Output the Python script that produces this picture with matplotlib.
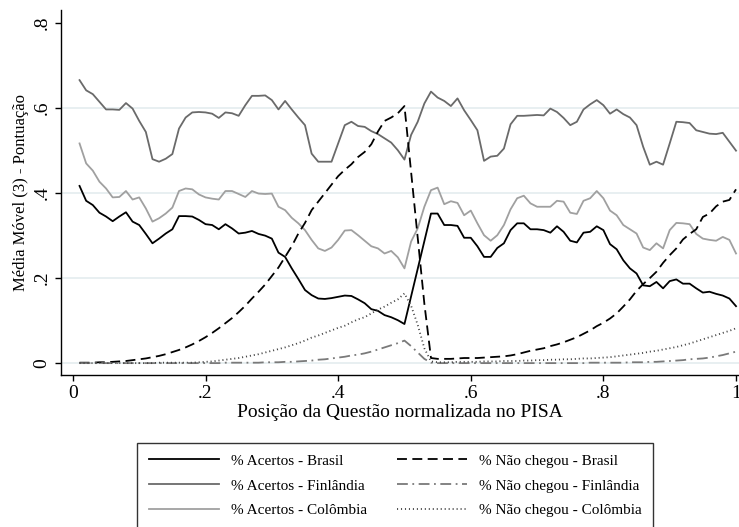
import numpy as np
import matplotlib
matplotlib.use("Agg")
import matplotlib.pyplot as plt

# posição normalizada da questão (0.01 .. 1.00)
posicao = np.round(np.arange(1, 101) / 100, 2)

acertos_brasil = [
    0.417, 0.382, 0.372, 0.354, 0.345, 0.334, 0.345, 0.355, 0.333, 0.325,
    0.304, 0.282, 0.293, 0.305, 0.315, 0.346, 0.346, 0.345, 0.337, 0.327,
    0.325, 0.315, 0.327, 0.317, 0.305, 0.307, 0.311, 0.304, 0.300, 0.293,
    0.260, 0.250, 0.223, 0.198, 0.172, 0.160, 0.152, 0.151, 0.153, 0.156,
    0.159, 0.158, 0.150, 0.141, 0.127, 0.123, 0.113, 0.108, 0.101, 0.092,
    0.157, 0.222, 0.287, 0.352, 0.352, 0.325, 0.325, 0.323, 0.295, 0.295,
    0.275, 0.250, 0.250, 0.271, 0.282, 0.313, 0.329, 0.329, 0.315, 0.315,
    0.313, 0.307, 0.322, 0.309, 0.288, 0.284, 0.307, 0.309, 0.322, 0.313,
    0.280, 0.268, 0.242, 0.223, 0.211, 0.183, 0.181, 0.191, 0.176, 0.193,
    0.197, 0.187, 0.187, 0.176, 0.166, 0.168, 0.163, 0.159, 0.152, 0.134,
]

acertos_finlandia = [
    0.666, 0.642, 0.633, 0.615, 0.597, 0.597, 0.596, 0.612, 0.599, 0.570,
    0.544, 0.480, 0.474, 0.481, 0.492, 0.552, 0.578, 0.590, 0.591, 0.590,
    0.587, 0.577, 0.590, 0.588, 0.582, 0.607, 0.629, 0.629, 0.630, 0.619,
    0.597, 0.617, 0.597, 0.578, 0.560, 0.493, 0.474, 0.474, 0.474, 0.517,
    0.560, 0.568, 0.558, 0.556, 0.546, 0.539, 0.529, 0.519, 0.501, 0.479,
    0.537, 0.568, 0.611, 0.639, 0.625, 0.617, 0.605, 0.623, 0.595, 0.572,
    0.548, 0.476, 0.486, 0.488, 0.505, 0.562, 0.582, 0.582, 0.583, 0.584,
    0.583, 0.599, 0.591, 0.577, 0.560, 0.568, 0.597, 0.609, 0.619, 0.607,
    0.587, 0.597, 0.586, 0.578, 0.560, 0.509, 0.467, 0.474, 0.467, 0.517,
    0.568, 0.567, 0.565, 0.548, 0.544, 0.540, 0.539, 0.542, 0.521, 0.500,
]

acertos_colombia = [
    0.517, 0.470, 0.453, 0.427, 0.411, 0.390, 0.391, 0.405, 0.385, 0.390,
    0.364, 0.333, 0.341, 0.352, 0.366, 0.405, 0.411, 0.409, 0.397, 0.390,
    0.387, 0.385, 0.405, 0.405, 0.398, 0.391, 0.405, 0.399, 0.398, 0.399,
    0.368, 0.360, 0.342, 0.329, 0.313, 0.290, 0.270, 0.264, 0.272, 0.290,
    0.312, 0.313, 0.301, 0.288, 0.275, 0.270, 0.258, 0.264, 0.249, 0.223,
    0.286, 0.317, 0.368, 0.407, 0.413, 0.374, 0.381, 0.377, 0.348, 0.359,
    0.329, 0.301, 0.288, 0.301, 0.325, 0.362, 0.388, 0.394, 0.376, 0.368,
    0.368, 0.368, 0.382, 0.380, 0.354, 0.351, 0.382, 0.388, 0.405, 0.388,
    0.359, 0.348, 0.325, 0.315, 0.305, 0.272, 0.266, 0.282, 0.270, 0.313,
    0.330, 0.329, 0.327, 0.304, 0.293, 0.290, 0.288, 0.297, 0.290, 0.258,
]

nao_chegou_brasil = [
    0.001, 0.001, 0.001, 0.002, 0.002, 0.003, 0.004, 0.005, 0.007, 0.009,
    0.011, 0.014, 0.017, 0.021, 0.026, 0.031, 0.037, 0.044, 0.052, 0.061,
    0.071, 0.082, 0.094, 0.106, 0.120, 0.135, 0.152, 0.168, 0.185, 0.205,
    0.225, 0.250, 0.275, 0.305, 0.330, 0.360, 0.380, 0.400, 0.420, 0.440,
    0.455, 0.468, 0.485, 0.497, 0.515, 0.545, 0.570, 0.578, 0.588, 0.605,
    0.450, 0.295, 0.140, 0.012, 0.010, 0.010, 0.010, 0.011, 0.012, 0.012,
    0.012, 0.013, 0.014, 0.015, 0.016, 0.018, 0.021, 0.025, 0.029, 0.032,
    0.035, 0.040, 0.044, 0.049, 0.055, 0.061, 0.069, 0.077, 0.087, 0.095,
    0.105, 0.117, 0.133, 0.150, 0.170, 0.186, 0.200, 0.215, 0.236, 0.254,
    0.270, 0.291, 0.304, 0.315, 0.344, 0.352, 0.369, 0.380, 0.384, 0.409,
]

nao_chegou_finlandia = [
    0.000, 0.000, 0.000, 0.000, 0.000, 0.000, 0.000, 0.000, 0.000, 0.000,
    0.000, 0.000, 0.000, 0.000, 0.000, 0.000, 0.000, 0.000, 0.000, 0.000,
    0.000, 0.000, 0.001, 0.001, 0.001, 0.001, 0.001, 0.001, 0.002, 0.002,
    0.002, 0.003, 0.003, 0.004, 0.005, 0.006, 0.008, 0.009, 0.011, 0.013,
    0.015, 0.018, 0.020, 0.023, 0.027, 0.032, 0.037, 0.042, 0.047, 0.053,
    0.040, 0.025, 0.010, 0.001, 0.000, 0.000, 0.000, 0.000, 0.000, 0.000,
    0.000, 0.000, 0.000, 0.000, 0.000, 0.000, 0.000, 0.000, 0.000, 0.000,
    0.000, 0.000, 0.000, 0.000, 0.000, 0.000, 0.000, 0.001, 0.001, 0.001,
    0.001, 0.001, 0.001, 0.002, 0.002, 0.002, 0.003, 0.003, 0.004, 0.005,
    0.006, 0.007, 0.009, 0.010, 0.011, 0.013, 0.016, 0.019, 0.023, 0.027,
]

nao_chegou_colombia = [
    0.000, 0.000, 0.000, 0.000, 0.000, 0.000, 0.000, 0.000, 0.000, 0.000,
    0.000, 0.000, 0.001, 0.001, 0.001, 0.001, 0.001, 0.001, 0.002, 0.003,
    0.004, 0.006, 0.008, 0.010, 0.012, 0.015, 0.018, 0.021, 0.025, 0.029,
    0.033, 0.037, 0.042, 0.047, 0.053, 0.060, 0.065, 0.071, 0.077, 0.083,
    0.088, 0.096, 0.103, 0.108, 0.117, 0.126, 0.133, 0.142, 0.150, 0.164,
    0.135, 0.090, 0.035, 0.004, 0.002, 0.002, 0.002, 0.003, 0.003, 0.003,
    0.003, 0.004, 0.004, 0.004, 0.005, 0.005, 0.005, 0.006, 0.006, 0.007,
    0.007, 0.008, 0.008, 0.009, 0.009, 0.010, 0.011, 0.011, 0.012, 0.013,
    0.014, 0.016, 0.018, 0.020, 0.022, 0.024, 0.027, 0.029, 0.032, 0.035,
    0.038, 0.042, 0.046, 0.051, 0.056, 0.061, 0.066, 0.071, 0.076, 0.082,
]

y_ticks = [0, 0.2, 0.4, 0.6, 0.8]
y_tick_labels = ["0", ".2", ".4", ".6", ".8"]
x_ticks = [0, 0.2, 0.4, 0.6, 0.8, 1.0]
x_tick_labels = ["0", ".2", ".4", ".6", ".8", "1"]

plt.rcParams["font.family"] = ["Liberation Serif", "DejaVu Serif"]

fig = plt.figure(figsize=(7.39, 5.27), dpi=100)
ax = fig.add_axes([0.0825, 0.2884, 0.9175, 0.6926])

for yv in y_ticks[:-1]:
    ax.axhline(yv, color="#e4ecef", lw=1.2, zorder=0)

lw = 1.3
ax.plot(posicao, acertos_brasil, color="black", lw=lw, label="% Acertos - Brasil")
ax.plot(posicao, acertos_finlandia, color="#6a6a6a", lw=lw, label="% Acertos - Finlândia")
ax.plot(posicao, acertos_colombia, color="#a0a0a0", lw=lw, label="% Acertos - Colômbia")
ax.plot(posicao, nao_chegou_brasil, color="black", lw=lw, dashes=(5.5, 3.0),
        label="% Não chegou - Brasil")
ax.plot(posicao, nao_chegou_finlandia, color="#7a7a7a", lw=lw, dashes=(6, 2.5, 1, 2.5),
        label="% Não chegou - Finlândia")
ax.plot(posicao, nao_chegou_colombia, color="#444444", lw=lw, dashes=(0.6, 1.6),
        label="% Não chegou - Colômbia")

ax.set_xlim(-0.018, 1.0045)
ax.set_ylim(-0.028, 0.831)
ax.set_xticks(x_ticks)
ax.set_xticklabels(x_tick_labels)
ax.set_yticks(y_ticks)
ax.set_yticklabels(y_tick_labels, rotation=90, va="center")
ax.tick_params(axis="both", direction="out", length=4.5, width=1, labelsize=14, pad=3)

for side in ["top", "right"]:
    ax.spines[side].set_visible(False)
for side in ["left", "bottom"]:
    ax.spines[side].set_linewidth(1)

ax.set_xlabel("Posição da Questão normalizada no PISA", fontsize=14)
ax.xaxis.set_label_coords(0.5, -0.08)
ax.set_ylabel("Média Móvel (3) - Pontuação", fontsize=12, va="center")
ax.yaxis.set_label_coords(-0.059, 0.5)

leg = fig.legend(loc="upper center", bbox_to_anchor=(0.535, 0.16), ncol=2,
                 fontsize=11, frameon=True, fancybox=False, edgecolor="black",
                 handlelength=4.6, handletextpad=0.8, columnspacing=1.9,
                 labelspacing=0.72, borderpad=0.75, borderaxespad=0)
leg.get_frame().set_linewidth(1)

fig.savefig("out.png", dpi=100)
